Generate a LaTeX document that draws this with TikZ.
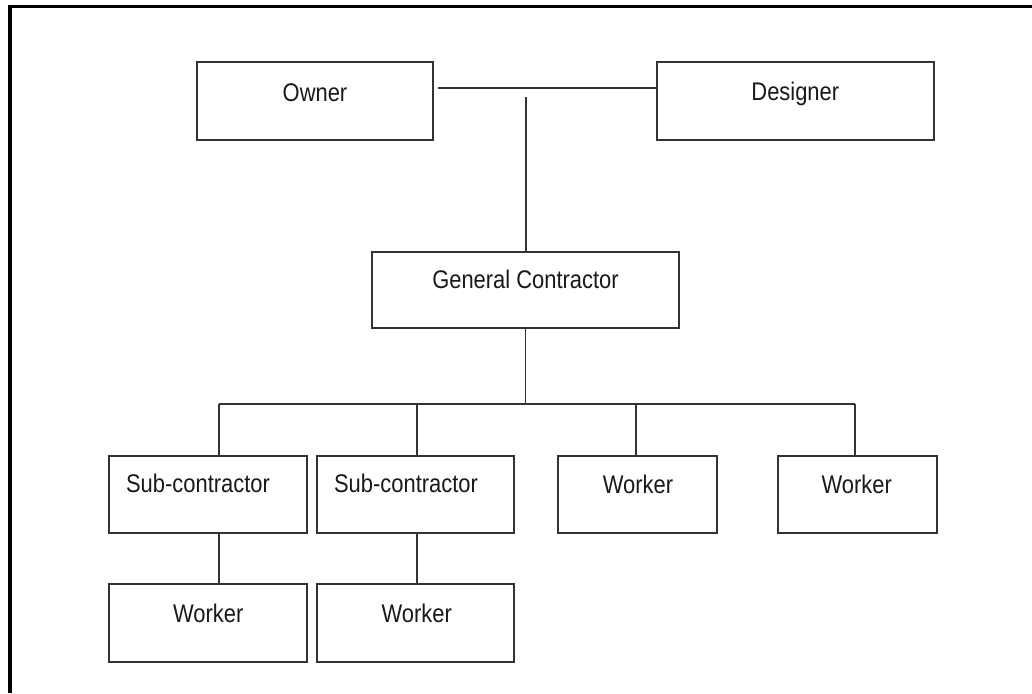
\documentclass[tikz,border=0pt]{standalone}
\usepackage{fontspec}
\setmainfont{Liberation Sans}[FakeStretch=0.86]
\begin{document}
\begin{tikzpicture}[x=1pt,y=-1pt,
  box/.style={draw=black!80, line width=1.9pt, rectangle, inner sep=0pt, minimum height=77pt},
  lbl/.style={inner sep=0pt, anchor=base, font=\fontsize{25.5}{30}\selectfont, text=black!90},
  link/.style={draw=black!80, line width=1.6pt},
  frame/.style={draw=black, line width=3.3pt}]
\useasboundingbox (0,0) rectangle (1032,693);
% outer frame (only top and left visible)
\coordinate (fbl) at (10,693);
\coordinate (ftl) at (10,6.5);
\coordinate (ftr) at (1032,6.5);
\draw[frame] (fbl) -- (ftl) -- (ftr);
% boxes
\node[box, minimum width=236pt, minimum height=78pt] (owner) at (315,101) {};
\node[box, minimum width=277pt, minimum height=78pt] (designer) at (795.5,101) {};
\node[box, minimum width=307pt, minimum height=76pt] (gc) at (525.5,290) {};
\node[box, minimum width=198pt] (sub1) at (208,494.5) {};
\node[box, minimum width=197pt] (sub2) at (415.5,494.5) {};
\node[box, minimum width=159pt] (w1) at (637.5,494.5) {};
\node[box, minimum width=159pt] (w2) at (857.5,494.5) {};
\node[box, minimum width=198pt, minimum height=78pt] (w3) at (208,623) {};
\node[box, minimum width=197pt, minimum height=78pt] (w4) at (415.5,623) {};
% labels
\node[lbl] (ownerT) at (315,101) {Owner};
\node[lbl] (designerT) at (795.3,100) {Designer};
\node[lbl] (gcT) at (525.5,288.3) {General Contractor};
\node[lbl] (sub1T) at (198,492.8) {Sub-contractor};
\node[lbl] (sub2T) at (406,492.8) {Sub-contractor};
\node[lbl] (w1T) at (638,493) {Worker};
\node[lbl] (w2T) at (856.7,493) {Worker};
\node[lbl] (w3T) at (208.3,622.5) {Worker};
\node[lbl] (w4T) at (416.7,622.5) {Worker};
% connectors
\coordinate (od) at (438,87.7);
\draw[link] (od) -- (od -| designer.west);
\coordinate (gctop) at (525.7,96.7);
\draw[link] (gctop) -- (gctop |- gc.north);
\coordinate (bus) at (525.7,404);
\draw[link] (gc.south) -- (gc.south |- bus);
\coordinate (d1) at (219,404);
\coordinate (d2) at (417,404);
\coordinate (d3) at (636,404);
\coordinate (d4) at (855,404);
\draw[link] (d1) -- (d4);
\draw[link] (d1) -- (d1 |- sub1.north);
\draw[link] (d2) -- (d2 |- sub2.north);
\draw[link] (d3) -- (d3 |- w1.north);
\draw[link] (d4) -- (d4 |- w2.north);
\draw[link] (sub1.south -| d1) -- (d1 |- w3.north);
\draw[link] (sub2.south -| d2) -- (d2 |- w4.north);
\end{tikzpicture}
\end{document}
